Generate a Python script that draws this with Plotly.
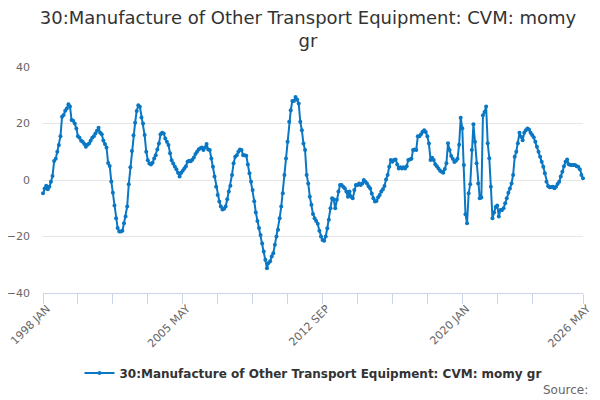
import plotly.graph_objects as go
import pandas as pd

# monthly growth rate, Jan 1998 .. May 2026
growth = [
    -4.7, -3.0, -2.0, -3.3, -2.4, -0.6, 1.4, 6.7, 7.5, 10.0, 12.4, 15.5,          # 1998
    22.4, 23.0, 24.5, 25.3, 26.8, 26.0, 21.2, 21.0, 20.0, 18.2, 15.5, 15.0,       # 1999
    13.9, 13.5, 12.7, 11.8, 12.5, 12.9, 13.9, 15.0, 15.5, 16.5, 17.4, 18.5,       # 2000
    16.7, 16.2, 14.0, 12.7, 11.5, 6.0, 5.0, -0.5, -4.5, -9.0, -13.5, -17.0,       # 2001
    -18.2, -18.2, -18.0, -15.3, -12.9, -9.4, -1.5, 4.5, 10.3, 15.8, 20.3, 24.4,   # 2002
    26.5, 25.9, 22.1, 20.0, 15.9, 10.0, 7.0, 5.8, 5.5, 6.1, 7.6, 8.8,             # 2003
    10.8, 12.9, 16.2, 16.7, 16.5, 14.7, 13.5, 12.4, 9.5, 7.0, 5.8, 4.8,           # 2004
    3.8, 2.6, 1.2, 2.6, 3.3, 4.1, 4.9, 6.5, 6.8, 6.6, 7.2, 8.0,                   # 2005
    9.2, 10.0, 10.8, 11.2, 11.5, 10.6, 11.5, 12.7, 10.8, 10.6, 7.6, 4.7,          # 2006
    1.2, -2.4, -5.3, -7.6, -9.4, -10.4, -10.2, -9.4, -6.8, -4.1, -2.0, 1.8,       # 2007
    5.9, 8.2, 8.8, 10.0, 10.8, 10.6, 8.8, 8.8, 8.6, 5.5, 2.4, -0.6,               # 2008
    -3.5, -7.5, -11.5, -14.5, -17.0, -19.5, -22.5, -25.3, -28.2, -31.2, -29.4, -28.8,  # 2009
    -27.1, -25.9, -22.9, -20.0, -17.6, -13.5, -9.4, -4.7, 1.8, 7.6, 13.5, 20.6,   # 2010
    24.7, 28.0, 28.0, 29.4, 28.5, 27.1, 20.6, 17.6, 12.9, 10.6, 1.8, -1.2,        # 2011
    -5.9, -8.8, -12.0, -13.5, -14.5, -15.5, -18.0, -20.0, -21.2, -21.5, -20.0, -17.1,  # 2012
    -14.1, -10.0, -6.5, -6.8, -10.0, -7.0, -4.1, -1.8, -1.8, -2.4, -2.9, -4.1,    # 2013
    -5.9, -4.1, -5.9, -6.5, -3.5, -1.8, -1.8, -1.2, -1.8, -1.2, 0.0, -0.6,        # 2014
    -1.2, -2.2, -3.0, -4.8, -6.5, -7.6, -7.4, -6.1, -5.3, -4.1, -3.3, -2.1,       # 2015
    0.2, 1.8, 4.7, 7.1, 6.5, 7.1, 7.3, 5.5, 4.1, 4.5, 4.1, 4.5,                   # 2016
    4.1, 4.9, 7.1, 7.3, 7.5, 10.6, 10.8, 10.6, 15.5, 15.5, 16.2, 17.1,            # 2017
    17.6, 17.0, 15.5, 12.9, 7.1, 7.9, 7.1, 5.6, 4.9, 4.1, 3.3, 2.9,               # 2018
    2.6, 3.9, 5.9, 13.0, 10.6, 8.5, 7.5, 6.4, 6.8, 7.5, 12.5, 22.0,               # 2019
    18.3, 5.3, -12.1, -15.3, -4.7, -1.5, 10.6, 19.7, 13.5, 5.9, -1.2, -6.5,       # 2020
    -6.2, 22.9, 24.1, 26.0, 13.0, 7.7, -2.4, -13.5, -11.5, -9.6, -9.0, -12.9,     # 2021
    -10.6, -10.6, -10.0, -8.2, -6.5, -4.5, -3.0, -1.2, 1.8, 8.2, 10.0, 13.0,      # 2022
    16.7, 15.3, 14.1, 16.7, 17.6, 18.2, 17.9, 16.7, 15.9, 15.1, 13.5, 11.8,       # 2023
    10.0, 8.2, 6.5, 4.7, 2.4, -0.6, -2.1, -2.6, -2.5, -2.4, -2.9, -2.4,           # 2024
    -1.4, -0.6, 1.2, 2.9, 4.9, 6.5, 7.3, 5.6, 5.3, 5.3, 5.3, 5.3,                 # 2025
    4.9, 4.7, 3.8, 1.8, 0.6,                                                      # 2026
]

months = pd.date_range("1998-01-01", periods=len(growth), freq="MS")
labels = [d.strftime("%Y %b").upper() for d in months]

tick_idx = list(range(0, len(labels) - 1, 22))[:-1] + [len(labels) - 1]
label_idx = [0, 88, 176, 264, len(labels) - 1]
tick_vals = [labels[i] for i in tick_idx]
tick_text = [labels[i] if i in label_idx else "" for i in tick_idx]

series_name = "30:Manufacture of Other Transport Equipment: CVM: momy gr"
line_col = "#0a77c4"

fig = go.Figure()
fig.add_trace(go.Scatter(
    x=labels, y=growth, mode="lines+markers",
    name="<b>" + series_name + "</b>",
    line=dict(color=line_col, width=2),
    marker=dict(color=line_col, size=4),
    cliponaxis=False,
))

# page body has an 8px margin, so margins are set 8px smaller on the left/top
fig.update_layout(
    width=600, height=400,
    margin=dict(l=35, r=25, t=59, b=115),
    paper_bgcolor="white", plot_bgcolor="white",
    font=dict(family="DejaVu Sans", color="#666666", size=11),
    title=dict(text="30:Manufacture of Other Transport Equipment: CVM: momy<br>gr",
               x=0.5, xanchor="center", y=0.96, yanchor="top",
               font=dict(size=18, color="#333333")),
    showlegend=True,
    legend=dict(orientation="h", x=0.5, xanchor="center", y=-0.354, yanchor="middle",
                font=dict(size=12, color="#333333")),
    xaxis=dict(type="category", range=[0, len(labels) - 1], automargin=False,
               tickmode="array", tickvals=tick_vals, ticktext=tick_text,
               tickangle=-45, ticks="outside", ticklen=10, tickcolor="#ccd6eb",
               ticklabelstandoff=-6, ticklabelshift=4,
               showline=True, linecolor="#ccd6eb", showgrid=False,
               tickfont=dict(size=11, color="#666666")),
    yaxis=dict(range=[-40, 40], dtick=20, showgrid=True, gridcolor="#e6e6e6",
               zeroline=True, zerolinecolor="#e6e6e6", zerolinewidth=1, automargin=False,
               showline=False, ticks="", ticklabelstandoff=12,
               tickfont=dict(size=11, color="#666666")),
)

fig.add_annotation(text="Source:", xref="paper", yref="paper", x=1.013, y=-0.429,
                   xanchor="right", yanchor="middle", showarrow=False,
                   font=dict(size=12, color="#666666"))

fig.write_html("out.html")
